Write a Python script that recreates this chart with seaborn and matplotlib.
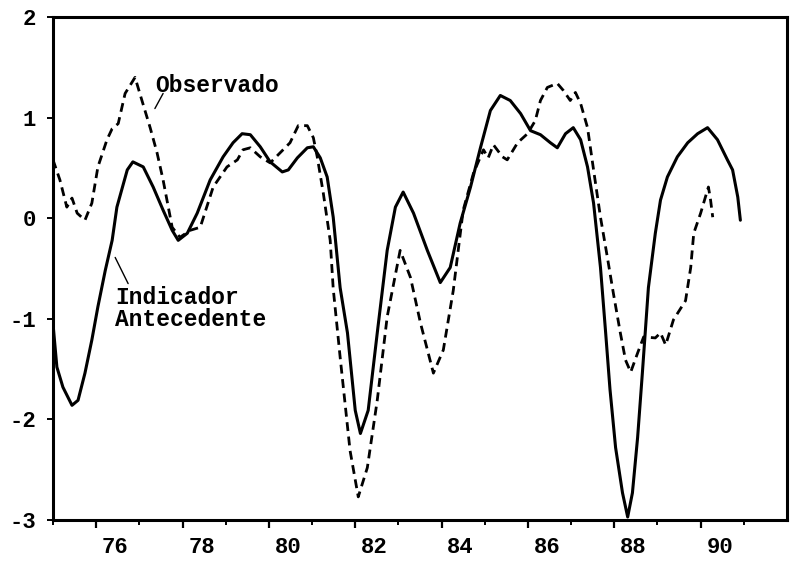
import matplotlib
matplotlib.use("Agg")
import matplotlib.pyplot as plt
import matplotlib.transforms as mtransforms
import pandas as pd
import seaborn as sns

# ---- data (decimal year, value) ----
ind_year = [75.00, 75.09, 75.23, 75.44, 75.58, 75.74, 75.90, 76.04, 76.21, 76.37,
            76.48, 76.72, 76.85, 77.09, 77.32, 77.55, 77.76, 77.90, 78.11, 78.34,
            78.64, 78.94, 79.17, 79.38, 79.57, 79.80, 80.03, 80.31, 80.45, 80.66,
            80.89, 81.03, 81.19, 81.35, 81.49, 81.65, 81.82, 82.00, 82.12, 82.30,
            82.51, 82.74, 82.93, 83.11, 83.35, 83.67, 83.97, 84.20, 84.43, 84.67,
            84.90, 85.13, 85.36, 85.59, 85.83, 86.06, 86.29, 86.52, 86.68, 86.87,
            87.05, 87.22, 87.38, 87.52, 87.68, 87.80, 87.90, 88.03, 88.19, 88.31,
            88.42, 88.54, 88.65, 88.79, 88.95, 89.07, 89.23, 89.46, 89.70, 89.93,
            90.16, 90.39, 90.62, 90.74, 90.86, 90.92]
ind_value = [-1.05, -1.48, -1.68, -1.86, -1.81, -1.54, -1.21, -0.88, -0.52, -0.22,
             0.11, 0.48, 0.56, 0.51, 0.31, 0.08, -0.12, -0.22, -0.15, 0.05,
             0.38, 0.61, 0.75, 0.84, 0.83, 0.71, 0.56, 0.46, 0.48, 0.60,
             0.70, 0.71, 0.60, 0.41, 0.01, -0.69, -1.14, -1.91, -2.14, -1.91,
             -1.14, -0.32, 0.11, 0.26, 0.05, -0.32, -0.64, -0.49, -0.05, 0.31,
             0.70, 1.07, 1.22, 1.17, 1.04, 0.87, 0.83, 0.75, 0.70, 0.84,
             0.90, 0.78, 0.51, 0.15, -0.49, -1.14, -1.70, -2.28, -2.73, -2.97,
             -2.73, -2.18, -1.54, -0.69, -0.15, 0.18, 0.41, 0.61, 0.75, 0.84,
             0.90, 0.78, 0.58, 0.48, 0.21, -0.02]

obs_year = [75.00, 75.16, 75.32, 75.44, 75.56, 75.74, 75.90, 76.04, 76.25, 76.37,
            76.51, 76.67, 76.90, 77.06, 77.25, 77.41, 77.55, 77.76, 77.94, 78.18,
            78.41, 78.71, 79.03, 79.27, 79.40, 79.57, 79.80, 80.03, 80.26, 80.49,
            80.68, 80.89, 81.03, 81.12, 81.26, 81.42, 81.49, 81.65, 81.88, 82.07,
            82.28, 82.51, 82.74, 83.04, 83.28, 83.51, 83.81, 84.04, 84.27, 84.50,
            84.74, 84.97, 85.08, 85.20, 85.41, 85.52, 85.76, 85.99, 86.17, 86.29,
            86.45, 86.68, 86.82, 86.98, 87.10, 87.22, 87.38, 87.52, 87.68, 87.84,
            87.98, 88.14, 88.26, 88.38, 88.54, 88.68, 88.95, 89.07, 89.19, 89.37,
            89.65, 89.77, 89.84, 90.00, 90.11, 90.18, 90.23, 90.28]
obs_value = [0.58, 0.38, 0.11, 0.20, 0.05, -0.02, 0.15, 0.51, 0.78, 0.89,
             0.94, 1.24, 1.40, 1.17, 0.90, 0.65, 0.38, -0.09, -0.19, -0.12,
             -0.09, 0.31, 0.51, 0.58, 0.68, 0.70, 0.61, 0.55, 0.65, 0.75,
             0.92, 0.92, 0.80, 0.61, 0.25, -0.22, -0.70, -1.38, -2.31, -2.77,
             -2.48, -1.81, -0.98, -0.32, -0.59, -1.04, -1.54, -1.31, -0.72, 0.08,
             0.45, 0.68, 0.60, 0.73, 0.61, 0.58, 0.75, 0.84, 0.97, 1.17,
             1.30, 1.34, 1.27, 1.17, 1.25, 1.14, 0.90, 0.48, 0.01, -0.39,
             -0.75, -1.14, -1.41, -1.53, -1.34, -1.18, -1.19, -1.14, -1.26, -1.01,
             -0.82, -0.49, -0.15, 0.05, 0.21, 0.31, 0.18, 0.01]

xtick_years = [76, 78, 80, 82, 84, 86, 88, 90]
xtick_labels = ["76", "78", "80", "82", "84", "86", "88", "90"]
xminor_years = [75, 77, 79, 81, 83, 85, 87, 89, 91]
ytick_values = [-3, -2, -1, 0, 1, 2]
ytick_labels = ["-3", "-2", "-1", "0", "1", "2"]

label_obs = "Observado"
label_ind = ["Indicador", "Antecedente"]

# ---- style ----
sns.set_theme(style="ticks")
plt.rcParams["font.family"] = ["Liberation Mono", "DejaVu Sans Mono"]
plt.rcParams["font.weight"] = "bold"
plt.rcParams["axes.unicode_minus"] = False

fig = plt.figure(figsize=(7.91, 5.65), dpi=100)
fig.patch.set_facecolor("white")
ax = fig.add_axes([53 / 791, 1 - 520 / 565, (787 - 53) / 791, (520 - 17) / 565])
ax.set_facecolor("white")

ind_df = pd.DataFrame({"year": ind_year, "value": ind_value})
obs_df = pd.DataFrame({"year": obs_year, "value": obs_value})

sns.lineplot(data=ind_df, x="year", y="value", ax=ax, color="black",
             linewidth=2.2, errorbar=None, solid_joinstyle="round",
             solid_capstyle="round")
sns.lineplot(data=obs_df, x="year", y="value", ax=ax, color="black",
             linewidth=2.0, linestyle=(0, (3.2, 2.0)), errorbar=None,
             dash_joinstyle="round")

ax.set_xlim(75, 92)
ax.set_ylim(-3, 2)
ax.set_xlabel("")
ax.set_ylabel("")

ax.set_xticks(xtick_years)
ax.set_xticklabels(xtick_labels, fontsize=16, fontweight="bold")
ax.set_xticks(xminor_years, minor=True)
ax.set_yticks(ytick_values)
ax.set_yticklabels(ytick_labels, fontsize=16, fontweight="bold")

ax.tick_params(axis="x", which="major", direction="out", length=6, width=1.6,
               pad=6, colors="black")
ax.tick_params(axis="x", which="minor", direction="out", length=3.5, width=1.4,
               colors="black")
ax.tick_params(axis="y", which="major", direction="out", length=4, width=1.4,
               pad=8, colors="black")

# labels sit a little to the right of their tick (middle of the year)
offset = mtransforms.ScaledTranslation(0.19, 0, fig.dpi_scale_trans)
for lab in ax.get_xticklabels():
    lab.set_transform(lab.get_transform() + offset)

for side in ["left", "right", "top", "bottom"]:
    ax.spines[side].set_visible(True)
    ax.spines[side].set_color("black")
    ax.spines[side].set_linewidth(2.2)

# annotations
ax.text(77.36, 1.25, label_obs, fontsize=16.5, fontweight="bold",
        ha="left", va="baseline", color="black")
ax.plot([77.36, 77.55], [1.09, 1.24], color="black", linewidth=1.0)

ax.text(76.44, -0.85, label_ind[0], fontsize=16.5, fontweight="bold",
        ha="left", va="baseline", color="black")
ax.text(76.44, -1.07, label_ind[1], fontsize=16.5, fontweight="bold",
        ha="left", va="baseline", color="black")
ax.plot([76.44, 76.74], [-0.39, -0.65], color="black", linewidth=1.0)

fig.savefig("out.png", dpi=100, facecolor="white")
